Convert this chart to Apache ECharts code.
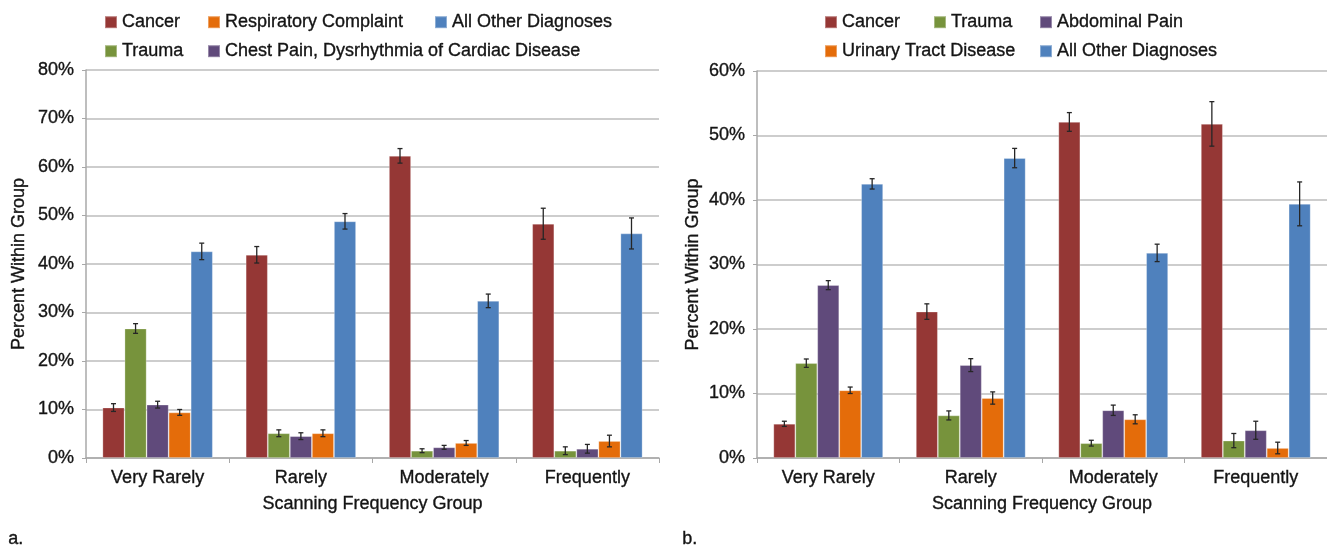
<!DOCTYPE html>
<html>
<head>
<meta charset="utf-8">
<script src="https://cdn.jsdelivr.net/npm/echarts@6/dist/echarts.min.js"></script>
<style>
html,body{margin:0;padding:0;background:#fff;}
#chart{width:1327px;height:548px;}
</style>
</head>
<body>
<div id="chart"></div>
<script>
// ---------- data ----------
const categories = ['Very Rarely', 'Rarely', 'Moderately', 'Frequently'];

// Panel a
const namesA = ['Cancer', 'Trauma', 'Chest Pain, Dysrhythmia of Cardiac Disease', 'Respiratory Complaint', 'All Other Diagnoses'];
const cancerA = [10.4, 41.9, 62.3, 48.3];
const cancerAErr = [0.8, 1.7, 1.5, 3.2];
const traumaA = [26.7, 5.1, 1.5, 1.5];
const traumaAErr = [1.0, 0.7, 0.4, 0.8];
const chestA = [11.0, 4.5, 2.2, 1.9];
const chestAErr = [0.7, 0.7, 0.4, 0.9];
const respA = [9.4, 5.1, 3.1, 3.5];
const respAErr = [0.6, 0.7, 0.5, 1.2];
const otherA = [42.6, 48.8, 32.4, 46.3];
const otherAErr = [1.7, 1.6, 1.4, 3.2];

// Panel b
const namesB = ['Cancer', 'Trauma', 'Abdominal Pain', 'Urinary Tract Disease', 'All Other Diagnoses'];
const cancerB = [5.3, 22.7, 52.1, 51.8];
const cancerBErr = [0.4, 1.2, 1.45, 3.45];
const traumaB = [14.7, 6.6, 2.3, 2.7];
const traumaBErr = [0.65, 0.7, 0.45, 1.1];
const abdB = [26.8, 14.4, 7.4, 4.3];
const abdBErr = [0.7, 1.0, 0.8, 1.4];
const urinB = [10.5, 9.3, 6.0, 1.55];
const urinBErr = [0.5, 0.95, 0.7, 0.9];
const otherB = [42.5, 46.5, 31.8, 39.4];
const otherBErr = [0.8, 1.5, 1.35, 3.4];

const yTicksA = {max: 80, interval: 10};
const yTicksB = {max: 60, interval: 10};

// ---------- styles ----------
const colorMap = {
  'Cancer': '#953735',
  'Trauma': '#77933C',
  'Chest Pain, Dysrhythmia of Cardiac Disease': '#604A7B',
  'Abdominal Pain': '#604A7B',
  'Respiratory Complaint': '#E46C0A',
  'Urinary Tract Disease': '#E46C0A',
  'All Other Diagnoses': '#4F81BD'
};
const FONT = 'Liberation Sans';
const TXT = '#141414';
const GAP = 0.23;
const BOLDEN = {textBorderColor: TXT, textBorderWidth: 0.35};

const valsA = [cancerA, traumaA, chestA, respA, otherA];
const errsA = [cancerAErr, traumaAErr, chestAErr, respAErr, otherAErr];
const valsB = [cancerB, traumaB, abdB, urinB, otherB];
const errsB = [cancerBErr, traumaBErr, abdBErr, urinBErr, otherBErr];

function errRender(idx, n) {
  return function (params, api) {
    const cat = api.value(0), v = api.value(1), e = api.value(2);
    const p = api.coord([cat, v]);
    const catW = api.size([1, 0])[0];
    const groupW = catW * (1 - GAP);
    const bw = groupW / n;
    const cx = p[0] - groupW / 2 + bw * (idx + 0.5);
    const top = api.coord([cat, v + e])[1];
    const bot = api.coord([cat, v - e])[1];
    const st = {stroke: '#262626', lineWidth: 1.3};
    return {
      type: 'group',
      children: [
        {type: 'line', shape: {x1: cx, y1: top, x2: cx, y2: bot}, style: st},
        {type: 'line', shape: {x1: cx - 2.5, y1: top, x2: cx + 2.5, y2: top}, style: st},
        {type: 'line', shape: {x1: cx - 2.5, y1: bot, x2: cx + 2.5, y2: bot}, style: st}
      ]
    };
  };
}

const series = [];
function addPanel(names, vals, errs, axisIdx) {
  names.forEach((nm, i) => {
    series.push({
      name: nm, type: 'bar', xAxisIndex: axisIdx, yAxisIndex: axisIdx,
      data: vals[i], barGap: '0%', barCategoryGap: (GAP * 100) + '%',
      itemStyle: {color: colorMap[nm], borderColor: 'rgba(255,255,255,0.35)', borderWidth: 0.8},
      silent: true
    });
  });
  names.forEach((nm, i) => {
    series.push({
      name: nm + ' err', type: 'custom', xAxisIndex: axisIdx, yAxisIndex: axisIdx,
      renderItem: errRender(i, names.length),
      data: vals[i].map((v, k) => [k, v, errs[i][k]]),
      encode: {x: 0, y: 1}, z: 10, silent: true
    });
  });
}
addPanel(namesA, valsA, errsA, 0);
addPanel(namesB, valsB, errsB, 1);

function xAxisCfg(gi) {
  return {
    type: 'category', gridIndex: gi, data: categories,
    axisLine: {lineStyle: {color: '#a8a8a8', width: 1.5}},
    axisTick: {show: true, length: 5, lineStyle: {color: '#a8a8a8'}},
    axisLabel: Object.assign({color: TXT, fontFamily: FONT, fontSize: 18, margin: 11}, BOLDEN),
    name: 'Scanning Frequency Group', nameLocation: 'middle', nameGap: 37,
    nameTextStyle: Object.assign({color: TXT, fontFamily: FONT, fontSize: 18}, BOLDEN)
  };
}
function yAxisCfg(gi, t, gap) {
  return {
    type: 'value', gridIndex: gi, min: 0, max: t.max, interval: t.interval,
    axisLine: {show: true, lineStyle: {color: '#a8a8a8', width: 1.5}},
    axisTick: {show: true, length: 4, lineStyle: {color: '#a8a8a8'}},
    splitLine: {lineStyle: {color: '#bcbcbc', width: 1.5}},
    axisLabel: Object.assign({color: TXT, fontFamily: FONT, fontSize: 18, margin: 12, formatter: '{value}%'}, BOLDEN),
    name: 'Percent Within Group', nameLocation: 'middle', nameRotate: 90, nameGap: gap,
    nameTextStyle: Object.assign({color: TXT, fontFamily: FONT, fontSize: 18}, BOLDEN)
  };
}

function legendItem(name, left, top) {
  return {
    data: [name], left: left, top: top, orient: 'horizontal',
    itemWidth: 12, itemHeight: 12, icon: 'rect', selectedMode: false,
    textStyle: Object.assign({color: TXT, fontFamily: FONT, fontSize: 18}, BOLDEN)
  };
}

const R1 = 8, R2 = 37;
const option = {
  animation: false,
  backgroundColor: '#fff',
  grid: [
    {left: 86, top: 70, width: 573, height: 388},
    {left: 757, top: 71, width: 580, height: 387}
  ],
  xAxis: [xAxisCfg(0), xAxisCfg(1)],
  yAxis: [yAxisCfg(0, yTicksA, 58), yAxisCfg(1, yTicksB, 55)],
  legend: [
    legendItem('Cancer', 99, R1),
    legendItem('Respiratory Complaint', 202, R1),
    legendItem('All Other Diagnoses', 429, R1),
    legendItem('Trauma', 99, R2),
    legendItem('Chest Pain, Dysrhythmia of Cardiac Disease', 202, R2),
    legendItem('Cancer', 819, R1),
    legendItem('Trauma', 928, R1),
    legendItem('Abdominal Pain', 1034, R1),
    legendItem('Urinary Tract Disease', 819, R2),
    legendItem('All Other Diagnoses', 1034, R2)
  ],
  graphic: [
    {type: 'text', left: 8, top: 530, style: {text: 'a.', font: '18px "Liberation Sans"', fill: TXT, stroke: TXT, lineWidth: 0.35}},
    {type: 'text', left: 682, top: 530, style: {text: 'b.', font: '18px "Liberation Sans"', fill: TXT, stroke: TXT, lineWidth: 0.35}}
  ],
  series: series
};

const chart = echarts.init(document.getElementById('chart'), null, {renderer: 'canvas'});
chart.setOption(option);
</script>
</body>
</html>
